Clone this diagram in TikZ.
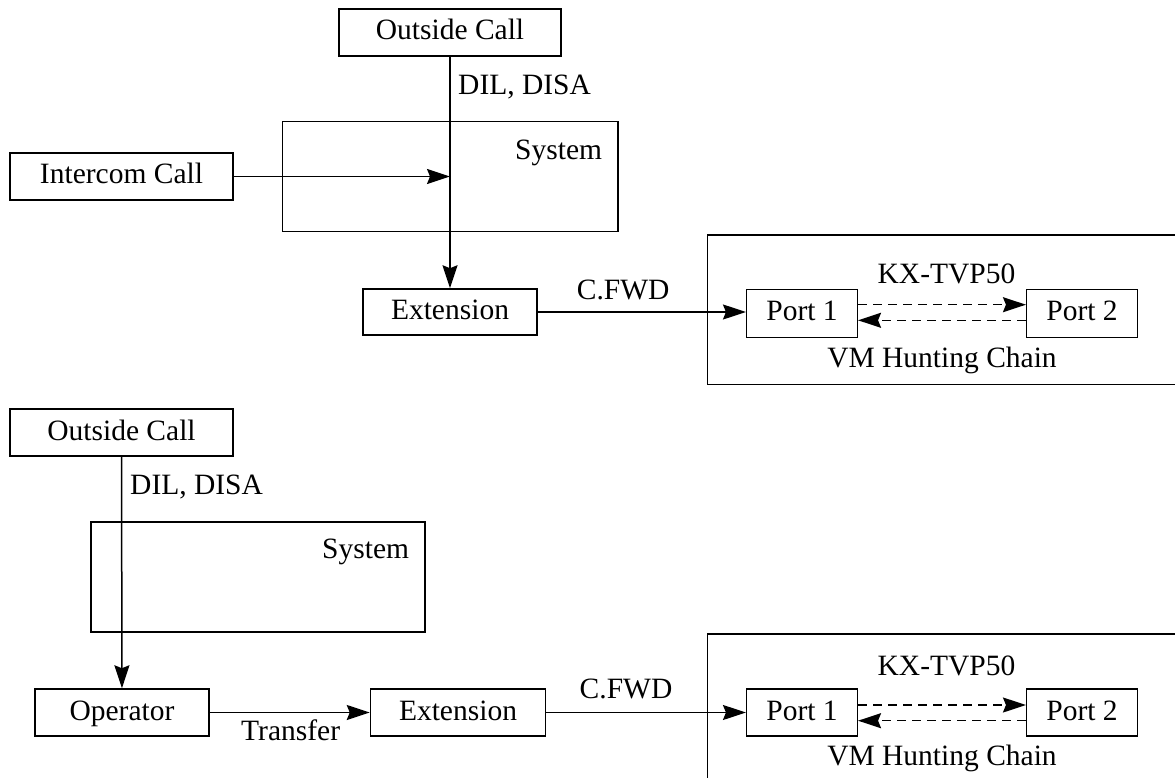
\documentclass[tikz,border=0pt]{standalone}
\usepackage{fontspec}
\setmainfont{Liberation Serif}
\usetikzlibrary{arrows.meta}
\tikzset{
  box/.style={draw, line width=1.5pt, rectangle, inner sep=0pt, text height=21pt, text depth=6pt},
  frame/.style={draw, line width=1.5pt},
  lbl/.style={inner sep=0pt},
  conn/.style={line width=1.5pt, -{Stealth[length=23pt,width=15pt,inset=3pt]}},
  dconn/.style={conn, dash pattern=on 9pt off 6pt},
}
\begin{document}
\begin{tikzpicture}[x=1pt,y=-1pt,font=\fontsize{29.5}{34}\selectfont]
\useasboundingbox (0,0) rectangle (1175,778);
\clip (0,0) rectangle (1175,778);
% ---------- top diagram ----------
\node[frame, minimum width=335.5pt, minimum height=110pt, inner sep=0pt] (sys1) at (450,176.6) {};
\node[box, minimum width=222pt, minimum height=47pt] (oc1) at (450,32.5) {Outside Call};
\node[box, minimum width=223pt, minimum height=47pt] (ic) at (121.5,176.5) {Intercom Call};
\node[box, minimum width=174pt, minimum height=46pt] (ext1) at (450,312) {Extension};
\node[frame, minimum width=500pt, minimum height=149.5pt, inner sep=0pt, anchor=north west] (kx1) at (706.7,234) {};
\node[box, minimum width=110.6pt, minimum height=48pt] (p1a) at (802,313.3) {Port 1};
\node[box, minimum width=110.6pt, minimum height=48pt] (p2a) at (1082,313.3) {Port 2};
\node[lbl, anchor=base west] (dil1) at (458,95) {DIL, DISA};
\node[lbl, anchor=base west] (syst1) at (515,159.3) {System};
\node[lbl, anchor=base west] (cfwd1) at (576.7,299.3) {C.FWD};
\node[lbl, anchor=base] (kxt1) at (946.5,283) {KX-TVP50};
\node[lbl, anchor=base] (vm1) at (942,367) {VM Hunting Chain};
\draw[conn] (oc1) -- (ext1);
\draw[conn] (ic) -- (ic -| oc1);
\draw[conn] (ext1.east) -- (ext1.east -| p1a.west);
\draw[dconn] ([yshift=8.6pt]p1a.east) -- ([yshift=8.6pt]p2a.west);
\draw[dconn] ([yshift=-7pt]p2a.west) -- ([yshift=-7pt]p1a.east);
% ---------- bottom diagram ----------
\node[frame, minimum width=334pt, minimum height=110pt, inner sep=0pt] (sys2) at (258,577) {};
\node[box, minimum width=223pt, minimum height=47pt] (oc2) at (121.5,432.5) {Outside Call};
\node[box, minimum width=174pt, minimum height=47pt] (op) at (122,712.5) {Operator};
\node[box, minimum width=175pt, minimum height=47pt] (ext2) at (458,712.5) {Extension};
\node[frame, minimum width=500pt, minimum height=170pt, inner sep=0pt, anchor=north west] (kx2) at (706.7,633.3) {};
\node[box, minimum width=110.6pt, minimum height=47pt] (p1b) at (802,712.7) {Port 1};
\node[box, minimum width=110.6pt, minimum height=47pt] (p2b) at (1082,712.7) {Port 2};
\node[lbl, anchor=base west] (dil2) at (130,494) {DIL, DISA};
\node[lbl, anchor=base west] (syst2) at (322,558) {System};
\node[lbl, anchor=base west] (trf) at (241,740.7) {Transfer};
\node[lbl, anchor=base west] (cfwd2) at (579.5,698) {C.FWD};
\node[lbl, anchor=base] (kxt2) at (946.5,675) {KX-TVP50};
\node[lbl, anchor=base] (vm2) at (942,765.7) {VM Hunting Chain};
\draw[conn] (oc2) -- (op);
\draw[conn] (op) -- (ext2);
\draw[conn] (ext2.east) -- (ext2.east -| p1b.west);
\draw[dconn] ([yshift=7.7pt]p1b.east) -- ([yshift=7.7pt]p2b.west);
\draw[dconn] ([yshift=-8pt]p2b.west) -- ([yshift=-8pt]p1b.east);
\end{tikzpicture}
\end{document}
